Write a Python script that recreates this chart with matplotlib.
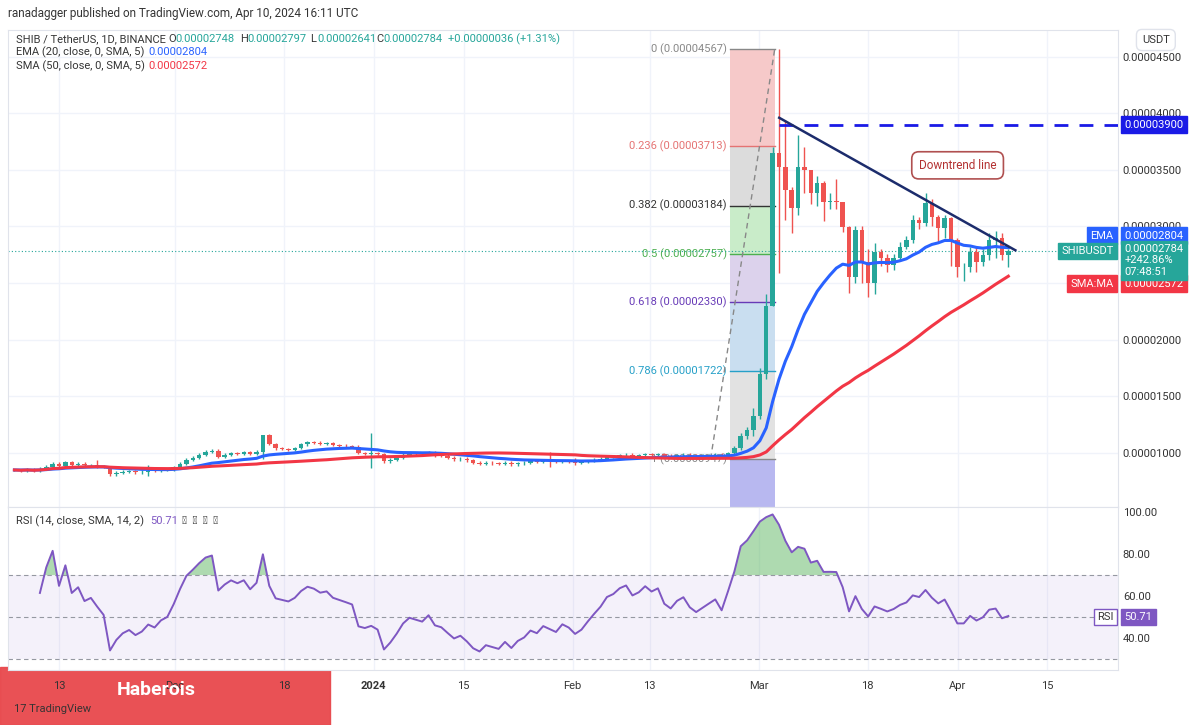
import matplotlib
matplotlib.use('Agg')

import numpy as np
import pandas as pd
import matplotlib.pyplot as plt
from matplotlib.patches import Rectangle
from matplotlib.transforms import blended_transform_factory

plt.rcParams['font.family'] = 'Roboto'

# daily closes, SHIB/USDT in units of 1e-8 USDT, Nov 6 2023 .. Apr 10 2024
closes_nov = [850, 845, 855, 840, 860, 880, 905, 885, 920, 895, 905, 890, 895,
              885, 875, 810, 825, 835, 840, 830, 835, 845, 840, 850, 855]
closes_dec = [875, 905, 940, 960, 985, 1010, 1020, 965, 985, 1000, 995, 1005,
              990, 1010, 1160, 1080, 1040, 1035, 1030, 1045, 1075, 1095, 1090,
              1080, 1085, 1070, 1065, 1060, 1055, 1000, 995]
closes_jan = [1000, 990, 925, 940, 960, 985, 1000, 995, 990, 1005, 980, 975,
              960, 945, 950, 935, 915, 905, 915, 910, 905, 915, 900, 910, 915,
              925, 920, 930, 925, 920, 930]
closes_feb = [925, 915, 920, 930, 940, 950, 965, 970, 980, 985, 975, 980, 990,
              985, 990, 975, 970, 980, 985, 975, 970, 975, 980, 985, 975, 1000]
closes_rally = [1040, 1150, 1200, 1330, 1700, 2300,
                3650, 3527, 3323, 3164, 3527, 3500, 3297, 3385, 3217, 3220,
                3217, 2997, 2555, 2970, 2687, 2502, 2775, 2720, 2660, 2720,
                2820, 2880, 3058, 3030, 3210, 3085, 2990, 3075, 2880, 2640,
                2640, 2775, 2690, 2745, 2880, 2900, 2748, 2784]
highs_rally = [1060, 1180, 1230, 1400, 1750, 2400,
               3700, 4567, 3940, 3350, 3810, 3703, 3500, 3450, 3400, 3300,
               3420, 3220, 3000, 3000, 3000, 2800, 2850, 2800, 2760, 2760,
               2860, 2920, 3100, 3080, 3297, 3240, 3100, 3100, 3080, 2900,
               2680, 2820, 2830, 2800, 2940, 2960, 2943, 2797]
lows_rally = [990, 1030, 1120, 1150, 1300, 1650,
              2300, 2590, 3058, 2943, 3100, 3300, 3200, 3180, 3050, 3150,
              3150, 2950, 2413, 2500, 2500, 2380, 2400, 2650, 2600, 2620,
              2700, 2800, 2850, 2980, 3000, 3000, 2850, 2900, 2650, 2550,
              2520, 2600, 2600, 2650, 2700, 2720, 2700, 2641]
# a few visible long wicks before the rally: day -> (high, low)
early_wicks = {13: (935, 870), 21: (890, 800), 39: (1030, 950),
               56: (1180, 870), 84: (1010, 880), 88: (960, 890),
               110: (1000, 960)}

fib_levels = [0, 0.236, 0.382, 0.5, 0.618, 0.786, 1]
fib_top = 4567
fib_bottom = 947

tick_days = [7, 25, 42, 56, 70, 87, 99, 116, 133, 147, 161]
tick_labels = ['13', 'Dec', '18', '2024', '15', 'Feb', '13', 'Mar', '18', 'Apr', '15']
price_ticks = [1000, 1500, 2000, 2500, 3000, 3500, 4000, 4500]
rsi_ticks = [40, 60, 80, 100]
ema_label = '0.00002804'
sma_label = '0.00002572'
rsi_label = '50.71'

closes = np.array(closes_nov + closes_dec + closes_jan + closes_feb + closes_rally, float)
n = len(closes)
days = np.arange(n) * 0.993
opens = np.concatenate([[closes[0]], closes[:-1]])
n_early = n - len(closes_rally)
highs = np.maximum(opens, closes) + 12
lows = np.minimum(opens, closes) - 12
highs[n_early:] = highs_rally
lows[n_early:] = lows_rally
for d, (h, l) in early_wicks.items():
    highs[d], lows[d] = h, l
highs = np.maximum(highs, np.maximum(opens, closes))
lows = np.minimum(lows, np.minimum(opens, closes))

s = pd.Series(closes)
ema = s.ewm(span=20, adjust=False).mean().values
sma = s.rolling(50, min_periods=1).mean().values
delta = s.diff()
gain = delta.clip(lower=0).ewm(alpha=1 / 14, adjust=True).mean()
loss = (-delta.clip(upper=0)).ewm(alpha=1 / 14, adjust=True).mean()
rsi = (100 - 100 / (1 + gain / loss)).values

GREEN = '#26a69a'
RED = '#ef5350'
GRID = '#f0f3fa'

fig = plt.figure(figsize=(12, 7.25), dpi=100)
ax = fig.add_axes([8 / 1200, 1 - 507 / 725, 1110 / 1200, 477 / 725])
axr = fig.add_axes([8 / 1200, 1 - 670 / 725, 1110 / 1200, 163 / 725], sharex=ax)

for a in (ax, axr):
    a.set_zorder(2)
    for sp in a.spines.values():
        sp.set_color('#e0e3eb')
    a.tick_params(length=0, labelsize=8, colors='#333333')
    a.yaxis.tick_right()
    for t in tick_days:
        a.axvline(t, color=GRID, lw=1, zorder=0)

ax.set_xlim(-1, 172)
ax.set_ylim(523, 4735)
ax.set_yticks(price_ticks)
ax.set_yticklabels(['%.8f' % (p * 1e-8) for p in price_ticks])
for p in price_ticks:
    ax.axhline(p, color=GRID, lw=1, zorder=0)
plt.setp(ax.get_xticklabels(), visible=False)

# fib retracement box
fib_colors = ['#f6c9c9', '#dcdcdc', '#c9ecc9', '#dcd2ec', '#c9def0', '#e2e2e2']
fib_text = ['#888888', '#e57373', '#333333', '#4caf50', '#673ab7', '#26a0c8', '#888888']
x0, x1 = 111.6, 118.5
vals = [fib_top - f * (fib_top - fib_bottom) for f in fib_levels]
for i in range(6):
    ax.add_patch(Rectangle((x0, vals[i + 1]), x1 - x0, vals[i] - vals[i + 1],
                           color=fib_colors[i], zorder=1, lw=0))
ax.add_patch(Rectangle((x0, 523), x1 - x0, fib_bottom - 523, color='#b8b8f0', zorder=1, lw=0))
for f, v, c in zip(fib_levels, vals, fib_text):
    ax.plot([x0, x1], [v, v], color=c, lw=1, zorder=2)
    lab = ('%g' % f) + ' (%.8f)' % (v * 1e-8)
    ax.text(x0 - 0.6, v, lab, ha='right', va='center', fontsize=8, color=c, zorder=2)
ax.plot([108.5, 118.5], [fib_bottom, fib_top], color='#888888', lw=1, ls=(0, (4, 3)), zorder=2)

# candles
up = closes >= opens
col = np.where(up, GREEN, RED)
ax.vlines(days, lows, highs, colors=col, lw=1, zorder=3)
ax.bar(days, np.maximum(np.abs(closes - opens), 4), bottom=np.minimum(opens, closes),
       width=0.7, color=col, zorder=3)

ax.plot(days, ema, color='#2962ff', lw=2.2, zorder=4)
ax.plot(days, sma, color='#f23645', lw=2.2, zorder=4)
ax.axhline(closes[-1], color=GREEN, lw=0.8, ls=(0, (1, 2)), zorder=2)

# drawings
ax.plot([119.2, 172], [3900, 3900], color='#1a1ae6', lw=2, ls=(0, (5, 4)), zorder=5)
ax.plot([119.2, 156], [3960, 2790], color='#1c2c6c', lw=1.8, zorder=5)
ax.text(147, 3540, 'Downtrend line', fontsize=8.5, color='#b33030', ha='center', va='center',
        zorder=6, bbox=dict(boxstyle='round,pad=0.6', fc='white', ec='#b05050', lw=1.2))

# right axis labels
tr = blended_transform_factory(ax.transAxes, ax.transData)


def price_box(y, text, color):
    ax.text(1.006, y, text, transform=tr, fontsize=8, color='white', ha='left', va='center',
            bbox=dict(boxstyle='square,pad=0.3', fc=color, ec=color), zorder=7, clip_on=False)


price_box(3900, '0.00003900', '#1a1ae6')
price_box(2920, ema_label, '#2962ff')
price_box(2495, sma_label, '#f23645')
ax.text(1.006, 2700, '0.00002784\n+242.86%\n07:48:51', transform=tr,
        fontsize=8, color='white', ha='left', va='center', linespacing=1.2,
        bbox=dict(boxstyle='square,pad=0.3', fc=GREEN, ec=GREEN), zorder=7, clip_on=False)
ax.text(0.996, 2920, 'EMA', transform=tr, fontsize=8, color='white', ha='right', va='center',
        bbox=dict(boxstyle='square,pad=0.3', fc='#2962ff', ec='#2962ff'), zorder=7)
ax.text(0.996, 2784, 'SHIBUSDT', transform=tr, fontsize=8, color='white', ha='right', va='center',
        bbox=dict(boxstyle='square,pad=0.3', fc=GREEN, ec=GREEN), zorder=7)
ax.text(0.996, 2495, 'SMA:MA', transform=tr, fontsize=8, color='white', ha='right', va='center',
        bbox=dict(boxstyle='square,pad=0.3', fc='#f23645', ec='#f23645'), zorder=7, clip_on=False)
fig.text(1142 / 1200, 1 - 40 / 725, 'USDT', fontsize=8, color='#333333', va='center',
         bbox=dict(boxstyle='round,pad=0.5', fc='white', ec='#e0e3eb'))

# RSI pane
axr.set_ylim(24.8, 102.4)
axr.set_yticks(rsi_ticks)
axr.set_yticklabels(['%.2f' % v for v in rsi_ticks])
axr.axhspan(30, 70, color='#7e57c2', alpha=0.08, lw=0)
for v in (30, 50, 70):
    axr.axhline(v, color='#9598a1', lw=0.8, ls=(0, (4, 3)))
axr.fill_between(days, 70, rsi, where=rsi > 70, color='#4caf50', alpha=0.45, lw=0,
                 interpolate=True)
axr.plot(days[4:], rsi[4:], color='#7e57c2', lw=1.4)
axr.set_xticks(tick_days)
axr.set_xticklabels(tick_labels)
axr.tick_params(axis='x', pad=8)
axr.get_xticklabels()[3].set_fontweight('bold')
trr = blended_transform_factory(axr.transAxes, axr.transData)
axr.text(1.006, 50, rsi_label, transform=trr, fontsize=8, color='white',
         ha='left', va='center', bbox=dict(boxstyle='square,pad=0.3', fc='#7e57c2', ec='#7e57c2'),
         clip_on=False)
axr.text(0.996, 50, 'RSI', transform=trr, fontsize=8, color='#333333', ha='right',
         va='center', bbox=dict(boxstyle='square,pad=0.3', fc='white', ec='#7e57c2'))
fig.text(16 / 1200, 1 - 521 / 725, 'RSI (14, close, SMA, 14, 2)', fontsize=8, color='#333333', va='center')
fig.text(150 / 1200, 1 - 521 / 725, rsi_label, fontsize=8, color='#7e57c2', va='center')
fig.text(182 / 1200, 1 - 521 / 725, '\u2205  \u2205  \u2205  \u2205', fontsize=8, color='#333333', va='center')

# header
fig.text(8 / 1200, 1 - 13 / 725, 'ranadagger published on TradingView.com, Apr 10, 2024 16:11 UTC',
         fontsize=8.5, color='#333333', va='center')
hy = 1 - 39 / 725
fig.text(16 / 1200, hy, 'SHIB / TetherUS, 1D, BINANCE', fontsize=8, color='#333333', va='center')
for x, lab, val in [(168, 'O', '0.00002748'), (240, 'H', '0.00002797'),
                    (310, 'L', '0.00002641'), (376, 'C', '0.00002784')]:
    fig.text(x / 1200, hy, lab, fontsize=8, color='#333333', va='center')
    fig.text((x + 7) / 1200, hy, val, fontsize=8, color=GREEN, va='center')
fig.text(448 / 1200, hy, '+0.00000036 (+1.31%)', fontsize=8, color=GREEN, va='center')
fig.text(16 / 1200, 1 - 52 / 725, 'EMA (20, close, 0, SMA, 5)', fontsize=8, color='#333333', va='center')
fig.text(148 / 1200, 1 - 52 / 725, ema_label, fontsize=8, color='#2962ff', va='center')
fig.text(16 / 1200, 1 - 66 / 725, 'SMA (50, close, 0, SMA, 5)', fontsize=8, color='#333333', va='center')
fig.text(148 / 1200, 1 - 66 / 725, sma_label, fontsize=8, color='#f23645', va='center')

# watermark box (behind the axes so tick labels stay visible)
fig.patches.append(Rectangle((0, 0), 330 / 1200, 58 / 725, transform=fig.transFigure,
                             color='#e8484c', alpha=0.95, zorder=1))
fig.text(117 / 1200, 1 - 690 / 725, 'Haberois', fontsize=14, fontweight='bold', color='white',
         va='center', zorder=3)
fig.text(14 / 1200, 1 - 709 / 725, '17 TradingView', fontsize=8, color='#333333',
         va='center', zorder=3)

fig.savefig('out.png', dpi=100, facecolor='white')
